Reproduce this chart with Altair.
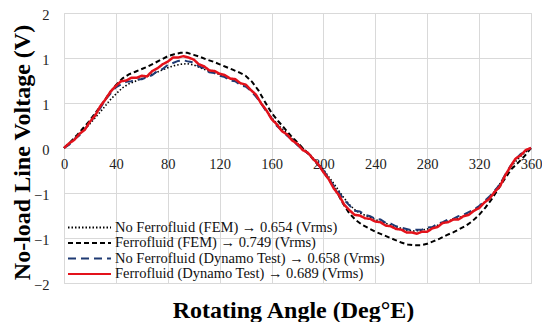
import altair as alt
import pandas as pd

series_names = [
    "No Ferrofluid (FEM) → 0.654 (Vrms)",
    "Ferrofluid (FEM) → 0.749 (Vrms)",
    "No Ferrofluid (Dynamo Test) → 0.658 (Vrms)",
    "Ferrofluid (Dynamo Test) → 0.689 (Vrms)",
]

fem_angle = list(range(0, 361, 5))
test_angle = list(range(0, 361, 4))

no_ff_fem = [
    0.00, 0.08, 0.17, 0.26, 0.36, 0.47, 0.58, 0.70, 0.80, 0.89,
    0.95, 0.99, 1.03, 1.07, 1.11, 1.15, 1.19, 1.22, 1.24, 1.25,
    1.23, 1.19, 1.15, 1.12, 1.09, 1.05, 1.01, 0.97, 0.92, 0.84,
    0.72, 0.58, 0.45, 0.34, 0.25, 0.16, 0.07, -0.02, -0.11, -0.21,
    -0.32, -0.45, -0.58, -0.72, -0.84, -0.93, -0.98, -1.02, -1.06, -1.10,
    -1.13, -1.16, -1.19, -1.22, -1.23, -1.22, -1.20, -1.17, -1.13, -1.09,
    -1.06, -1.03, -0.99, -0.94, -0.87, -0.79, -0.69, -0.56, -0.41, -0.27,
    -0.16, -0.07, 0.00,
]

ff_fem = [
    0.00, 0.09, 0.19, 0.30, 0.41, 0.54, 0.67, 0.81, 0.93, 1.03,
    1.09, 1.13, 1.17, 1.21, 1.26, 1.31, 1.36, 1.39, 1.41, 1.41,
    1.38, 1.35, 1.31, 1.28, 1.24, 1.20, 1.16, 1.12, 1.07, 0.98,
    0.85, 0.68, 0.52, 0.40, 0.29, 0.18, 0.08, -0.02, -0.12, -0.23,
    -0.35, -0.49, -0.64, -0.82, -0.97, -1.07, -1.14, -1.19, -1.24, -1.28,
    -1.32, -1.36, -1.40, -1.43, -1.44, -1.44, -1.42, -1.38, -1.34, -1.29,
    -1.25, -1.20, -1.15, -1.08, -0.99, -0.88, -0.75, -0.60, -0.45, -0.31,
    -0.22, -0.12, 0.00,
]

no_ff_test = [
    0.00, 0.05, 0.13, 0.19, 0.28, 0.37, 0.49, 0.59, 0.72, 0.81,
    0.90, 0.94, 0.98, 0.99, 1.02, 1.02, 1.05, 1.08, 1.14, 1.17,
    1.23, 1.26, 1.29, 1.30, 1.28, 1.27, 1.21, 1.18, 1.12, 1.11,
    1.07, 1.05, 1.00, 0.99, 0.93, 0.91, 0.85, 0.76, 0.66, 0.54,
    0.44, 0.33, 0.26, 0.18, 0.12, 0.04, -0.02, -0.08, -0.14, -0.25,
    -0.33, -0.45, -0.56, -0.66, -0.77, -0.85, -0.93, -0.94, -0.99, -1.01,
    -1.05, -1.06, -1.11, -1.12, -1.16, -1.18, -1.20, -1.22, -1.21, -1.21,
    -1.18, -1.17, -1.12, -1.10, -1.06, -1.05, -1.01, -0.99, -0.95, -0.91,
    -0.86, -0.79, -0.72, -0.63, -0.54, -0.40, -0.27, -0.17, -0.09, -0.04,
    0.00,
]

ff_test = [
    0.00, 0.07, 0.12, 0.21, 0.27, 0.39, 0.48, 0.62, 0.72, 0.84,
    0.92, 0.99, 1.00, 1.04, 1.04, 1.07, 1.06, 1.14, 1.18, 1.24,
    1.28, 1.34, 1.34, 1.36, 1.34, 1.31, 1.24, 1.21, 1.15, 1.14,
    1.10, 1.08, 1.03, 1.02, 0.96, 0.94, 0.86, 0.79, 0.66, 0.56,
    0.43, 0.35, 0.25, 0.20, 0.11, 0.06, -0.03, -0.07, -0.16, -0.24,
    -0.36, -0.46, -0.60, -0.70, -0.84, -0.92, -0.99, -1.00, -1.04, -1.05,
    -1.09, -1.10, -1.15, -1.16, -1.20, -1.21, -1.25, -1.25, -1.27, -1.24,
    -1.24, -1.19, -1.17, -1.11, -1.10, -1.06, -1.06, -1.01, -0.99, -0.93,
    -0.89, -0.81, -0.75, -0.65, -0.57, -0.41, -0.28, -0.16, -0.11, -0.03,
    0.00,
]

x_ticks = list(range(0, 361, 40))
y_ticks = [-2, -4 / 3, -2 / 3, 0, 2 / 3, 4 / 3, 2]

rows = []
for name, angles, vals in [
    (series_names[0], fem_angle, no_ff_fem),
    (series_names[1], fem_angle, ff_fem),
    (series_names[2], test_angle, no_ff_test),
    (series_names[3], test_angle, ff_test),
]:
    for a, v in zip(angles, vals):
        rows.append({"angle": a, "voltage": v, "series": name})
df = pd.DataFrame(rows)

colors = ["#000000", "#000000", "#1f3a73", "#e3121b"]
dashes = [[1.5, 2], [5, 3], [8, 5], [1, 0]]
widths = [1.6, 2.0, 2.0, 2.5]

FONT = "Liberation Serif"
GRID = "#d9d9d9"

W, H = 467, 270

legend = alt.Legend(
    title=None, orient="none", legendX=3, legendY=208,
    symbolType="stroke", symbolSize=1849, symbolStrokeWidth=2,
    clipHeight=13, rowPadding=0.5, padding=0,
    labelFont=FONT, labelFontSize=14.5, labelColor="#111111",
    labelOffset=3, labelLimit=400,
)

x_enc = alt.X(
    "angle:Q",
    scale=alt.Scale(domain=[0, 360], nice=False, zero=False),
    axis=alt.Axis(
        values=x_ticks, offset=-H / 2, grid=True, gridColor=GRID, gridWidth=1,
        domain=False, ticks=False, tickSize=0, labelPadding=9, labelFlush=False,
        labelFont=FONT, labelFontSize=14.5, labelColor="#222222",
        title="Rotating Angle (Deg°E)", titleFont=FONT, titleFontSize=24,
        titleFontWeight="bold", titleColor="#000000",
        titleX=229, titleY=169, titleBaseline="alphabetic", titleAnchor="middle",
    ),
)
y_enc = alt.Y(
    "voltage:Q",
    scale=alt.Scale(domain=[-2, 2], nice=False, zero=False),
    axis=alt.Axis(
        values=y_ticks, format=".0f", grid=True, gridColor=GRID, gridWidth=1,
        domain=False, ticks=False, tickSize=0, labelPadding=15, labelOffset=2,
        labelFont=FONT, labelFontSize=14.5, labelColor="#222222",
        title="No-load Line Voltage (V)", titleFont=FONT, titleFontSize=24,
        titleFontWeight="bold", titleColor="#000000",
        titleX=-42, titleY=139, titleBaseline="middle", titleAngle=270,
    ),
)

base = alt.Chart(df).encode(
    x=x_enc,
    y=y_enc,
    color=alt.Color("series:N", scale=alt.Scale(domain=series_names, range=colors), legend=legend),
    strokeDash=alt.StrokeDash("series:N", scale=alt.Scale(domain=series_names, range=dashes), legend=legend),
)

layers = [
    base.transform_filter(alt.datum.series == n).mark_line(strokeWidth=w)
    for n, w in zip(series_names, widths)
]

chart = (
    alt.layer(*layers)
    .properties(
        width=W, height=H,
        autosize=alt.AutoSizeParams(type="none"),
        padding={"left": 56, "top": 5, "right": 11, "bottom": 39},
        background="#ffffff",
    )
    .configure_view(stroke=GRID, strokeWidth=1)
)

chart.save("out.html", embed_options={"renderer": "svg", "actions": False})
